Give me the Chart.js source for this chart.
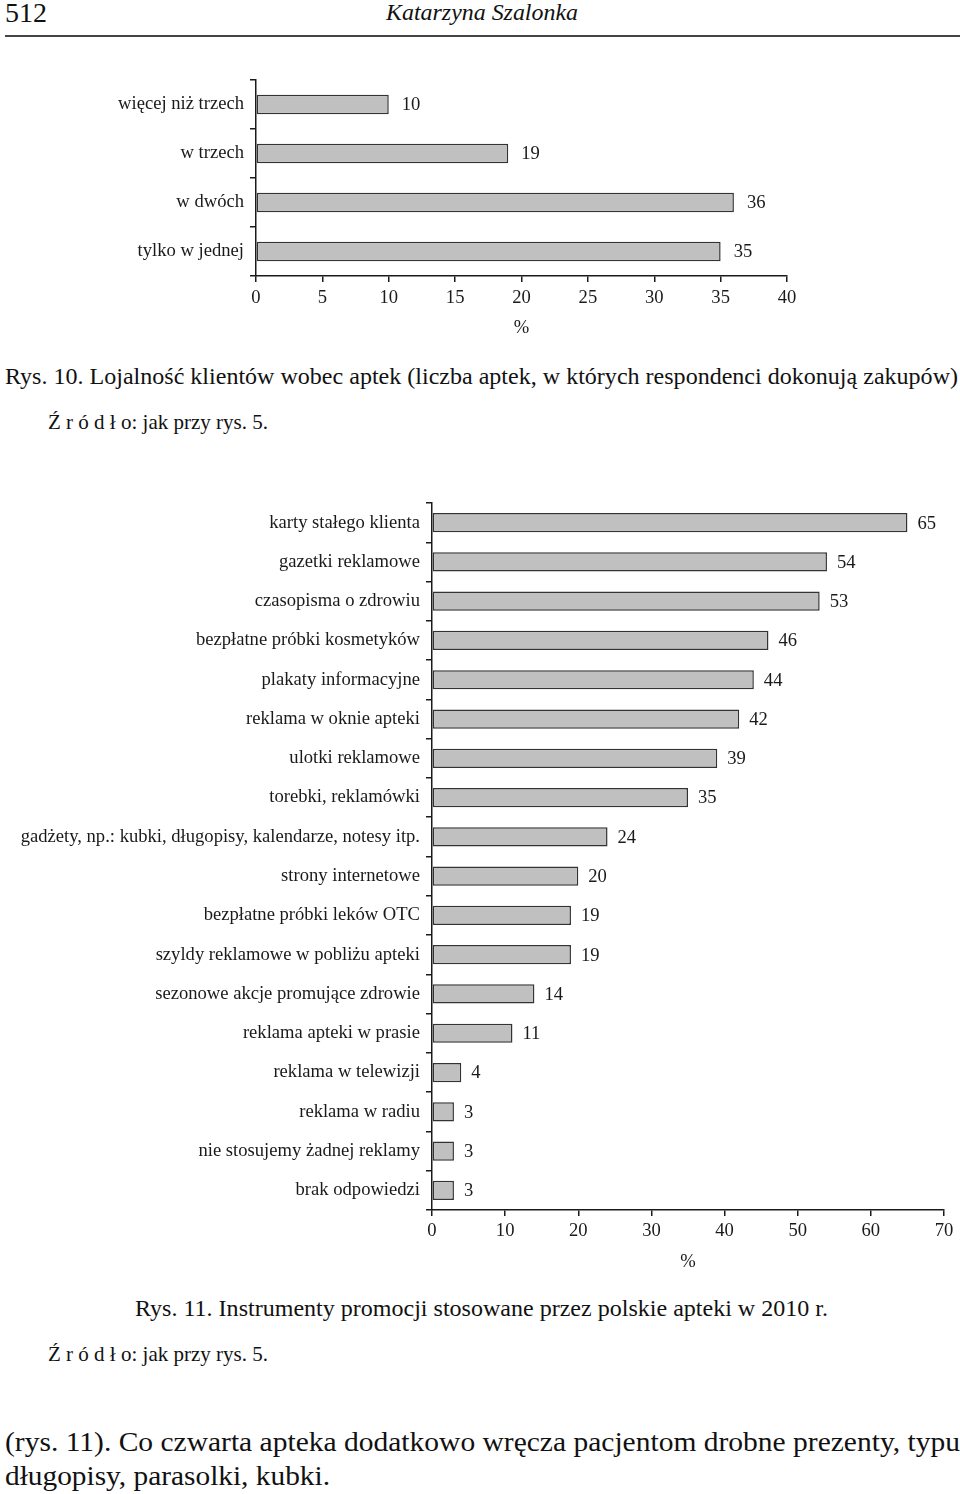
<!DOCTYPE html>
<html lang="pl">
<head>
<meta charset="utf-8">
<script src="https://cdn.jsdelivr.net/npm/chart.js@4.4.1/dist/chart.umd.min.js"></script>
<style>
  html, body { margin: 0; padding: 0; background: #fff; }
  body { width: 960px; height: 1494px; position: relative; overflow: hidden;
         font-family: "Liberation Serif", "Times New Roman", serif; color: #111; }
  .t { position: absolute; white-space: nowrap; line-height: 1; transform-origin: 0 0; }
  canvas { position: absolute; left: 0; }
  #rule { position: absolute; left: 5px; top: 35px; width: 955px; height: 2px; background: #444; }
</style>
</head>
<body>
<div class="t" data-x="5" data-y="14" data-w="42" data-s="28">512</div>
<div class="t" data-x="386" data-y="14" data-w="192" data-s="23" style="font-style:italic">Katarzyna Szalonka</div>
<div id="rule"></div>

<div style="position:absolute;top:70px;left:0;width:960px;height:280px"><canvas id="chart1"></canvas></div>

<div class="t" data-x="5" data-y="378" data-w="953" data-s="23">Rys. 10. Lojalność klientów wobec aptek (liczba aptek, w których respondenci dokonują zakupów)</div>
<div class="t" data-x="48" data-y="424" data-w="220" data-s="21">Ź r ó d ł o: jak przy rys. 5.</div>

<div style="position:absolute;top:490px;left:0;width:960px;height:800px"><canvas id="chart2"></canvas></div>

<div class="t" data-x="135" data-y="1310" data-w="693" data-s="23">Rys. 11. Instrumenty promocji stosowane przez polskie apteki w 2010 r.</div>
<div class="t" data-x="48" data-y="1356" data-w="220" data-s="21">Ź r ó d ł o: jak przy rys. 5.</div>
<div class="t" data-x="5" data-y="1443" data-w="955" data-s="28">(rys. 11). Co czwarta apteka dodatkowo wręcza pacjentom drobne prezenty, typu</div>
<div class="t" data-x="5" data-y="1477" data-w="325" data-s="28">długopisy, parasolki, kubki.</div>

<script>
// Rys. 10
const loyaltyLabels = ['więcej niż trzech', 'w trzech', 'w dwóch', 'tylko w jednej'];
const loyaltyValues = [10, 19, 36, 35];
const loyaltyTicks = [0, 5, 10, 15, 20, 25, 30, 35, 40];

// Rys. 11
const promoLabels = [
  'karty stałego klienta',
  'gazetki reklamowe',
  'czasopisma o zdrowiu',
  'bezpłatne próbki kosmetyków',
  'plakaty informacyjne',
  'reklama w oknie apteki',
  'ulotki reklamowe',
  'torebki, reklamówki',
  'gadżety, np.: kubki, długopisy, kalendarze, notesy itp.',
  'strony internetowe',
  'bezpłatne próbki leków OTC',
  'szyldy reklamowe w pobliżu apteki',
  'sezonowe akcje promujące zdrowie',
  'reklama apteki w prasie',
  'reklama w telewizji',
  'reklama w radiu',
  'nie stosujemy żadnej reklamy',
  'brak odpowiedzi'
];
const promoValues = [65, 54, 53, 46, 44, 42, 39, 35, 24, 20, 19, 19, 14, 11, 4, 3, 3, 3];
const promoTicks = [0, 10, 20, 30, 40, 50, 60, 70];

const ink = '#1a1a1a';
const serif = '"Liberation Serif", "Times New Roman", serif';
const fontSize = 18.6;

const valueLabels = {
  id: 'valueLabels',
  afterDatasetsDraw(chart, args, opts) {
    const ctx = chart.ctx;
    const meta = chart.getDatasetMeta(0);
    const data = chart.data.datasets[0].data;
    ctx.save();
    ctx.font = fontSize + 'px ' + serif;
    ctx.fillStyle = ink;
    ctx.textAlign = 'left';
    ctx.textBaseline = 'middle';
    meta.data.forEach((bar, i) => {
      ctx.fillText(String(data[i]), bar.x + opts.gap, bar.y + 1);
    });
    ctx.restore();
  }
};

function makeChart(id, labels, values, ticks, cfg) {
  return new Chart(document.getElementById(id), {
    type: 'bar',
    data: {
      labels: labels,
      datasets: [{
        data: values,
        backgroundColor: '#c0c0c0',
        borderColor: '#333',
        borderWidth: 1.5,
        borderSkipped: false,
        barPercentage: cfg.barPct,
        categoryPercentage: 1
      }]
    },
    options: {
      indexAxis: 'y',
      responsive: true,
      maintainAspectRatio: false,
      animation: false,
      layout: { padding: cfg.padding },
      plugins: {
        legend: { display: false },
        tooltip: { enabled: false },
        valueLabels: { gap: cfg.gap }
      },
      scales: {
        x: {
          min: ticks[0],
          max: ticks[ticks.length - 1],
          ticks: { stepSize: ticks[1] - ticks[0], color: ink, font: { family: serif, size: fontSize }, padding: cfg.tickPad, maxRotation: 0 },
          grid: { drawOnChartArea: false, drawTicks: true, tickLength: 6, color: ink, lineWidth: 1.5 },
          border: { display: true, color: ink, width: 1.5 },
          title: { display: true, text: '%', color: ink, font: { family: serif, size: fontSize }, padding: { top: 0, bottom: cfg.titlePad } },
          afterFit(scale) {
            scale.height = cfg.xHeight;
            scale.paddingLeft = 0;
            scale.paddingRight = 0;
          }
        },
        y: {
          ticks: { color: ink, font: { family: serif, size: fontSize }, padding: 6 },
          grid: { drawOnChartArea: false, drawTicks: true, tickLength: 6, color: ink, lineWidth: 1.5, offset: true },
          border: { display: true, color: ink, width: 1.5 },
          afterFit(scale) {
            scale.width = cfg.yWidth;
            scale.paddingTop = 0;
            scale.paddingBottom = 0;
          }
        }
      }
    },
    plugins: [valueLabels]
  });
}

function fitText() {
  document.querySelectorAll('.t').forEach(el => {
    const s = +el.dataset.s;
    el.style.fontSize = s + 'px';
    el.style.left = el.dataset.x + 'px';
    el.style.top = (+el.dataset.y - s * 0.55) + 'px';
    el.style.transform = 'none';
    const w = el.getBoundingClientRect().width;
    el.style.transform = 'scaleX(' + (+el.dataset.w / w) + ')';
  });
}

fitText();

makeChart('chart1', loyaltyLabels, loyaltyValues, loyaltyTicks, {
  barPct: 0.4, gap: 13, tickPad: 5, titlePad: 1, xHeight: 64, yWidth: 256,
  padding: { top: 10, bottom: 10, left: 0, right: 173 }
});

makeChart('chart2', promoLabels, promoValues, promoTicks, {
  barPct: 0.49, gap: 10, tickPad: 4, titlePad: 7, xHeight: 70, yWidth: 432,
  padding: { top: 13, bottom: 10, left: 0, right: 16 }
});
</script>
</body>
</html>
